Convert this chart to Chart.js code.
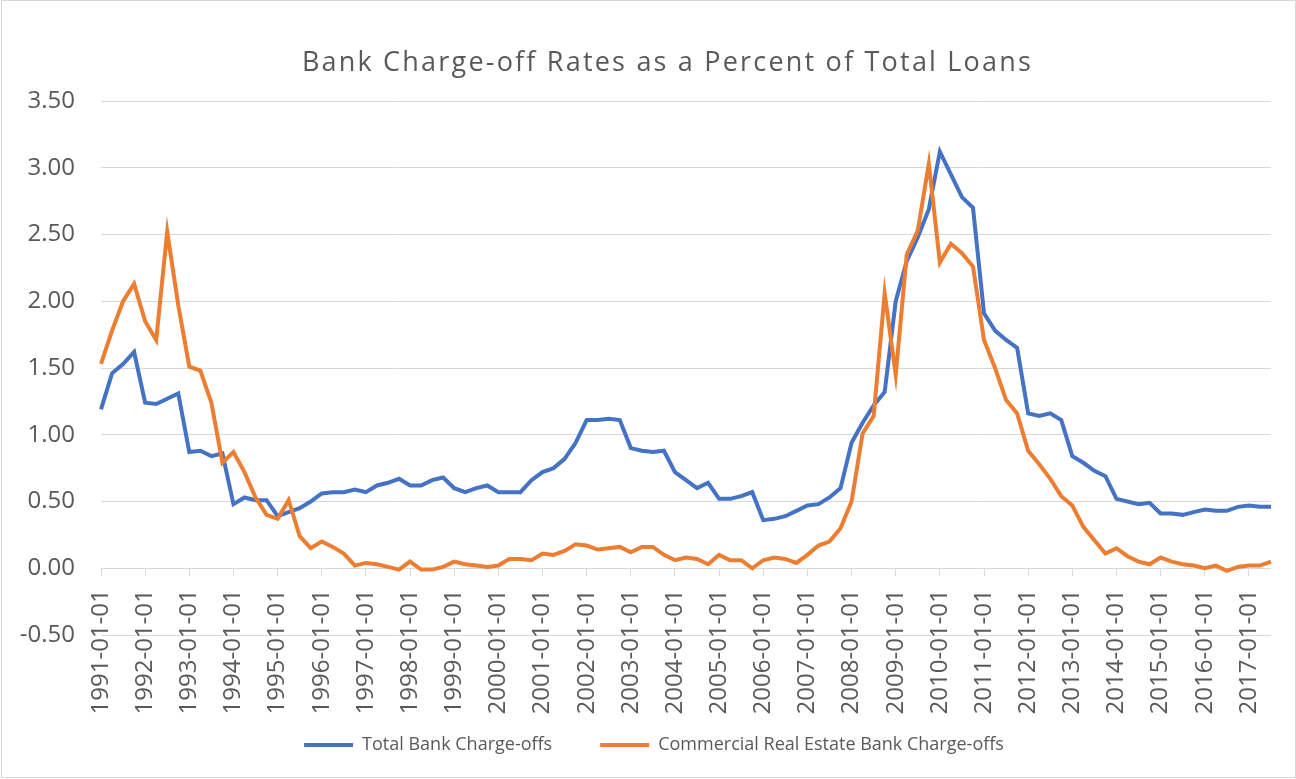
<!DOCTYPE html>
<html>
<head>
<meta charset="utf-8">
<script src="https://cdn.jsdelivr.net/npm/chart.js@4.4.1/dist/chart.umd.min.js"></script>
<style>
  html, body { margin: 0; padding: 0; background: #ffffff; }
  #wrap { position: relative; width: 1296px; height: 779px; }
  #frame { position: absolute; left: 1px; top: 0px; width: 1293px; height: 776px; border: 1px solid #d9d9d9; pointer-events: none; }
</style>
</head>
<body>
<div id="wrap">
  <canvas id="c" width="1296" height="779"></canvas>
  <div id="frame"></div>
</div>
<script>
// ---- data ----
const chartTitle = "Bank Charge-off Rates as a Percent of Total Loans";
const seriesNames = ["Total Bank Charge-offs", "Commercial Real Estate Bank Charge-offs"];
const startYear = 1991;
const quarterMonths = ["01", "04", "07", "10"];
const quarterCount = 107; // 1991-01-01 .. 2017-07-01

const totalChargeOffs = [
  1.19, 1.46, 1.53, 1.62, 1.24, 1.23, 1.27, 1.31, 0.87, 0.88,
  0.84, 0.86, 0.48, 0.53, 0.51, 0.51, 0.39, 0.42, 0.45, 0.50,
  0.56, 0.57, 0.57, 0.59, 0.57, 0.62, 0.64, 0.67, 0.62, 0.62,
  0.66, 0.68, 0.60, 0.57, 0.60, 0.62, 0.57, 0.57, 0.57, 0.66,
  0.72, 0.75, 0.82, 0.94, 1.11, 1.11, 1.12, 1.11, 0.90, 0.88,
  0.87, 0.88, 0.72, 0.66, 0.60, 0.64, 0.52, 0.52, 0.54, 0.57,
  0.36, 0.37, 0.39, 0.43, 0.47, 0.48, 0.53, 0.60, 0.94, 1.09,
  1.22, 1.32, 2.00, 2.30, 2.48, 2.69, 3.12, 2.95, 2.78, 2.70,
  1.91, 1.78, 1.71, 1.65, 1.16, 1.14, 1.16, 1.11, 0.84, 0.79,
  0.73, 0.69, 0.52, 0.50, 0.48, 0.49, 0.41, 0.41, 0.40, 0.42,
  0.44, 0.43, 0.43, 0.46, 0.47, 0.46, 0.46
];
const creChargeOffs = [
  1.53, 1.78, 2.00, 2.13, 1.85, 1.71, 2.52, 1.97, 1.51, 1.48,
  1.24, 0.79, 0.87, 0.72, 0.53, 0.40, 0.37, 0.51, 0.24, 0.15,
  0.20, 0.16, 0.11, 0.02, 0.04, 0.03, 0.01, -0.01, 0.05, -0.01,
  -0.01, 0.01, 0.05, 0.03, 0.02, 0.01, 0.02, 0.07, 0.07, 0.06,
  0.11, 0.10, 0.13, 0.18, 0.17, 0.14, 0.15, 0.16, 0.12, 0.16,
  0.16, 0.10, 0.06, 0.08, 0.07, 0.03, 0.10, 0.06, 0.06, 0.00,
  0.06, 0.08, 0.07, 0.04, 0.10, 0.17, 0.20, 0.30, 0.50, 1.01,
  1.14, 2.06, 1.45, 2.35, 2.53, 3.03, 2.29, 2.43, 2.36, 2.26,
  1.71, 1.50, 1.26, 1.16, 0.88, 0.78, 0.67, 0.54, 0.47, 0.31,
  0.21, 0.11, 0.15, 0.09, 0.05, 0.03, 0.08, 0.05, 0.03, 0.02,
  0.00, 0.02, -0.02, 0.01, 0.02, 0.02, 0.05
];
const yMin = -0.5, yMax = 3.5, yStep = 0.5;

// categories (quarter start dates)
const categories = [];
for (let i = 0; i < quarterCount; i++) {
  categories.push((startYear + Math.floor(i / 4)) + "-" + quarterMonths[i % 4] + "-01");
}

const textColor = "#595959";
const gridColor = "#d9d9d9";
const fontFam = "'Open Sans', sans-serif";

const blockPlugin = {
  id: 'blockTweaks',
  afterLayout(chart) {
    const lg = chart.legend;
    if (lg) { lg.left = 12; lg.right = 1296; }
    const tb = chart.titleBlock;
    if (tb) {
      tb.left = 39; tb.right = 1296;
      if (!tb._spaced) {
        const orig = tb.draw.bind(tb);
        tb.draw = function () {
          const ctx = this.ctx;
          ctx.save();
          ctx.letterSpacing = '2.2px';
          orig();
          ctx.restore();
        };
        tb._spaced = true;
      }
    }
  }
};

new Chart(document.getElementById('c'), {
  type: 'line',
  data: {
    labels: categories,
    datasets: [
      { label: seriesNames[0], data: totalChargeOffs, borderColor: '#4472C4', backgroundColor: '#4472C4',
        borderWidth: 4, pointRadius: 0, tension: 0, order: 1, xAxisID: 'x', yAxisID: 'y' },
      { label: seriesNames[1], data: creChargeOffs, borderColor: '#ED7D31', backgroundColor: '#ED7D31',
        borderWidth: 4, pointRadius: 0, tension: 0, order: 0, xAxisID: 'x', yAxisID: 'y' }
    ]
  },
  plugins: [blockPlugin],
  options: {
    responsive: false,
    animation: false,
    events: [],
    layout: { padding: { left: 0, right: 25, top: 0, bottom: 15 } },
    plugins: {
      title: {
        display: true, text: chartTitle, color: textColor,
        font: { family: fontFam, size: 27, weight: 'normal', lineHeight: 1.2 },
        padding: { top: 47, bottom: 21.6 }
      },
      legend: {
        position: 'bottom',
        labels: {
          color: textColor, font: { family: fontFam, size: 18, lineHeight: 1.2 },
          usePointStyle: true, pointStyle: 'line', pointStyleWidth: 49, boxHeight: 18,
          padding: 48,
          sort: (a, b) => a.datasetIndex - b.datasetIndex
        }
      },
      tooltip: { enabled: false }
    },
    scales: {
      x: {
        type: 'category',
        position: { y: 0 },
        grid: { display: true, drawOnChartArea: false, drawTicks: true, tickLength: 8, color: gridColor, lineWidth: 1 },
        border: { display: false },
        ticks: {
          autoSkip: false, maxRotation: 90, minRotation: 90, padding: 13,
          color: textColor, font: { family: fontFam, size: 24 },
          callback: function(v, i) { return i % 4 === 0 ? this.getLabelForValue(v) : null; }
        }
      },
      xb: {
        type: 'category', position: 'bottom', display: true,
        grid: { display: false }, border: { display: false }, ticks: { display: false },
        afterFit(s) { s.height = 53; }
      },
      y: {
        min: yMin, max: yMax,
        grid: { color: gridColor, lineWidth: 1, drawTicks: false },
        border: { display: false },
        ticks: {
          stepSize: yStep, padding: 26, color: textColor, font: { family: fontFam, size: 24 },
          callback: (v) => Number(v).toFixed(2)
        },
        afterFit(s) { s.width = 101; }
      }
    }
  }
});
</script>
</body>
</html>
